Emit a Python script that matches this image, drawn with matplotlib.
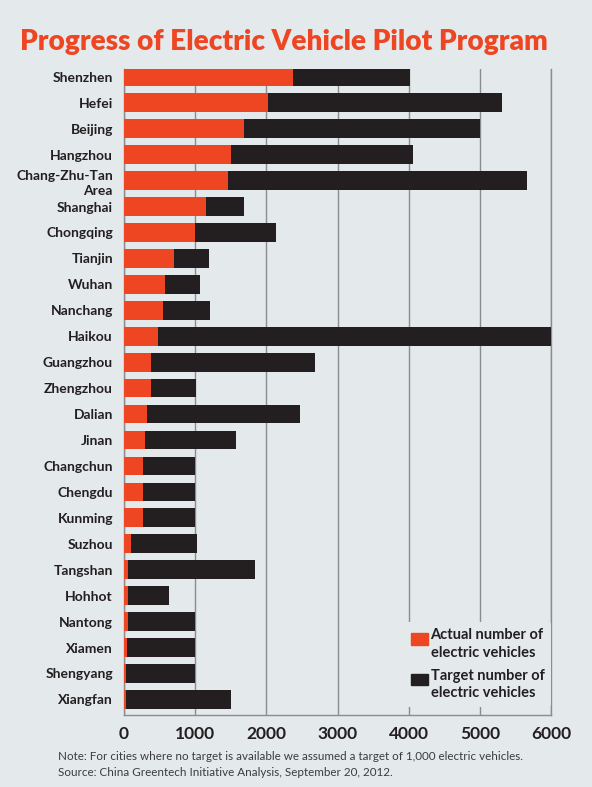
import numpy as np
import matplotlib
matplotlib.use("Agg")
import matplotlib.pyplot as plt
from matplotlib.patches import Rectangle, Patch
from matplotlib.legend_handler import HandlerPatch

# ---- data ----
cities = ["Shenzhen", "Hefei", "Beijing", "Hangzhou", "Chang-Zhu-Tan\nArea",
          "Shanghai", "Chongqing", "Tianjin", "Wuhan", "Nanchang", "Haikou",
          "Guangzhou", "Zhengzhou", "Dalian", "Jinan", "Changchun", "Chengdu",
          "Kunming", "Suzhou", "Tangshan", "Hohhot", "Nantong", "Xiamen",
          "Shengyang", "Xiangfan"]
actual = [2370, 2020, 1690, 1500, 1460, 1155, 1000, 708, 580, 550, 478,
          380, 380, 320, 297, 272, 264, 264, 92, 60, 50, 52, 44, 34, 24]
target = [4020, 5310, 5000, 4065, 5665, 1680, 2135, 1192, 1072, 1202, 6000,
          2680, 1015, 2475, 1578, 1000, 1000, 1000, 1032, 1840, 628, 1000,
          1000, 1000, 1497]
xticks = [0, 1000, 2000, 3000, 4000, 5000, 6000]
title = "Progress of Electric Vehicle Pilot Program"
note1 = "Note: For cities where no target is available we assumed a target of 1,000 electric vehicles."
note2 = "Source: China Greentech Initiative Analysis, September 20, 2012."
legend_actual = "Actual number of\nelectric vehicles"
legend_target = "Target number of\nelectric vehicles"

# ---- style ----
BG = "#E4E9EC"
RED = "#EE4623"
BLACK = "#231F20"
GRID = "#8A8C8E"
TXT = "#231F20"
FONT = "Lato"

W, H = 592, 787
AX_L, AX_R, AX_T, AX_B = 124, 551, 69, 715
fig = plt.figure(figsize=(W / 100, H / 100), dpi=100, facecolor=BG)
ax = fig.add_axes([AX_L / W, 1 - AX_B / H, (AX_R - AX_L) / W, (AX_B - AX_T) / H])
ax.set_facecolor(BG)

n = len(cities)
y = np.arange(n)
ax.barh(y, target, height=0.72, color=BLACK, zorder=3)
ax.barh(y, actual, height=0.72, color=RED, zorder=4)

ax.set_xlim(0, 6000)
ax.set_ylim(n - 1 + 0.6, -0.3)
ax.set_xticks(xticks)
ax.set_xticklabels([str(v) for v in xticks], fontfamily=FONT, fontweight="bold",
                   fontsize=12.5, color=TXT)
ax.set_yticks(y)
ax.set_yticklabels(cities, fontfamily=FONT, fontweight="bold", fontsize=10,
                   color=TXT, linespacing=1.3)
ax.tick_params(axis="both", length=0)
ax.tick_params(axis="y", pad=8)
ax.tick_params(axis="x", pad=8)
ax.xaxis.grid(True, color=GRID, lw=1.0, zorder=1)
ax.set_axisbelow(True)
ax.spines["top"].set_visible(False)
for s in ["left", "bottom", "right"]:
    ax.spines[s].set_color(GRID)
    ax.spines[s].set_linewidth(1.0)


def top_patch(legend, orig_handle, xdescent, ydescent, width, height, fontsize):
    hh = 0.8 * fontsize
    return Rectangle((-xdescent, -ydescent + height - hh - 0.05 * fontsize),
                     width, hh)


handles = [Patch(color=RED), Patch(color=BLACK)]
leg = ax.legend(handles, [legend_actual, legend_target], loc="lower right",
                bbox_to_anchor=(1.0, 8 / (AX_B - AX_T)), borderaxespad=0.0,
                prop={"family": FONT, "weight": "bold", "size": 10.5},
                handlelength=1.15, handleheight=2.3, handletextpad=0.2,
                labelspacing=0.65, borderpad=0.45, frameon=True,
                facecolor=BG, edgecolor="none", framealpha=1.0,
                handler_map={Patch: HandlerPatch(patch_func=top_patch)})
for t in leg.get_texts():
    t.set_color(TXT)
    t.set_linespacing(1.31)
leg.set_zorder(5)

t_title = fig.text(20 / W, 1 - 50 / H, title, color=RED, fontfamily=FONT,
                   fontweight="heavy", fontsize=18, ha="left", va="baseline")
t_n1 = fig.text(58 / W, 1 - 756 / H, note1, color="#3C3C3C", fontfamily=FONT,
                fontsize=8, ha="left", va="center")
t_n2 = fig.text(58 / W, 1 - 772 / H, note2, color="#3C3C3C", fontfamily=FONT,
                fontsize=8, ha="left", va="center")

# fit text widths to reference
fig.canvas.draw()
r = fig.canvas.get_renderer()
for t, wpx in [(t_title, 527), (t_n1, 467)]:
    bb = t.get_window_extent(r)
    t.set_fontsize(t.get_fontsize() * wpx / bb.width)
t_n2.set_fontsize(t_n1.get_fontsize())

fig.savefig("out.png", dpi=100, facecolor=BG)
